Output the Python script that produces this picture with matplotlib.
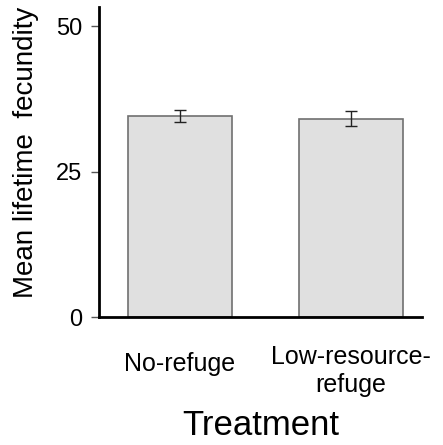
import matplotlib.pyplot as plt
from matplotlib.transforms import ScaledTranslation

plt.rcParams['font.family'] = ['Liberation Sans', 'DejaVu Sans']

treatments = ['No-refuge', 'Low-resource-\nrefuge']
means = [34.6, 34.1]
errors = [1.0, 1.3]
yticks = [0, 25, 50]

fig = plt.figure(figsize=(4.43, 4.45), dpi=100)
ax = fig.add_axes([0.223, 0.287, 0.730, 0.698])

x = range(len(treatments))
ax.bar(x, means, width=0.61, color='#e0e0e0', edgecolor='#707070', linewidth=1.2,
       yerr=errors, error_kw=dict(ecolor='#222222', elinewidth=1, capsize=4, capthick=1))

ax.set_xlim(-0.476, 1.42)
ax.set_ylim(0, 53.4)
ax.set_yticks(yticks)
ax.set_xticks(list(x))
ax.set_xticklabels(treatments, fontsize=18, linespacing=1.2)
ax.tick_params(axis='x', length=0, pad=20)
ax.tick_params(axis='y', labelsize=17, length=6, width=1, color='#555555', pad=6)

# single-line label sits a bit lower than the two-line one
lab = ax.get_xticklabels()[0]
lab.set_transform(lab.get_transform() + ScaledTranslation(0, -0.07, fig.dpi_scale_trans))

for s in ['top', 'right']:
    ax.spines[s].set_visible(False)
ax.spines['left'].set_linewidth(2)
ax.spines['bottom'].set_linewidth(2)

ax.set_ylabel('Mean lifetime  fecundity', fontsize=20)
ax.yaxis.set_label_coords(-0.185, 0.53)
ax.set_xlabel('Treatment', fontsize=25, labelpad=9)

fig.savefig('out.png', dpi=100)
